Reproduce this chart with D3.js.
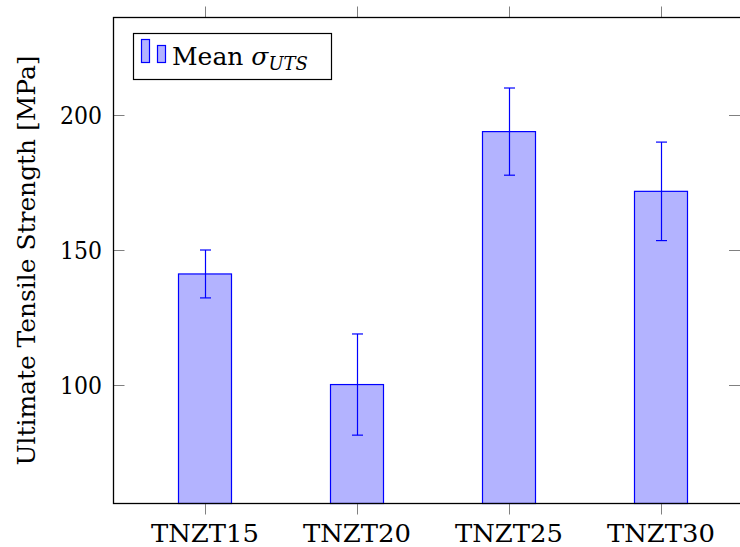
<!DOCTYPE html>
<html>
<head>
<meta charset="utf-8">
<script src="https://cdn.jsdelivr.net/npm/d3@7"></script>
<style>
  body { margin: 0; background: #fff; }
</style>
</head>
<body>
<div id="chart"></div>
<script>
// data
const categories = ['TNZT15', 'TNZT20', 'TNZT25', 'TNZT30']
const means = [141.1, 100, 194, 171.8]
const errors = [8.9, 18.8, 16.2, 18.3]
const yTicks = [100, 150, 200]

const width = 740
const height = 547
const plot = { left: 113.5, right: 741, top: 17.5, bottom: 503.5 }
const serif = '"DejaVu Serif", "Liberation Serif", serif'

const svg = d3.select('#chart')
  .append('svg')
  .attr('width', width)
  .attr('height', height)
  .style('font-family', serif)

const x = d3.scalePoint()
  .domain(categories)
  .range([205, 661])

const y = d3.scaleLinear()
  .domain([55.8, 236.4])
  .range([plot.bottom, plot.top])

const barWidth = 53
const capWidth = 11

// bars
svg.selectAll('rect.bar')
  .data(categories)
  .enter()
  .append('rect')
  .attr('class', 'bar')
  .attr('x', d => x(d) - barWidth / 2)
  .attr('width', barWidth)
  .attr('y', (d, i) => y(means[i]))
  .attr('height', (d, i) => plot.bottom - y(means[i]))
  .attr('fill', '#b3b3ff')
  .attr('stroke', '#0000ff')
  .attr('stroke-width', 1.2)

// error bars
const err = svg.append('g')
  .attr('stroke', '#0000ff')
  .attr('stroke-width', 1.2)

categories.forEach((c, i) => {
  const cx = Math.round(x(c)) + 0.5
  const hi = y(means[i] + errors[i])
  const lo = y(means[i] - errors[i])
  err.append('line').attr('x1', cx).attr('x2', cx).attr('y1', hi).attr('y2', lo)
  err.append('line').attr('x1', cx - capWidth / 2).attr('x2', cx + capWidth / 2).attr('y1', hi).attr('y2', hi)
  err.append('line').attr('x1', cx - capWidth / 2).attr('x2', cx + capWidth / 2).attr('y1', lo).attr('y2', lo)
})

// ticks (gray): x ticks outward top and bottom, y ticks inward left and right
const ticks = svg.append('g')
  .attr('stroke', '#808080')
  .attr('stroke-width', 1)

categories.forEach(c => {
  const cx = Math.round(x(c)) + 0.5
  ticks.append('line').attr('x1', cx).attr('x2', cx).attr('y1', plot.bottom).attr('y2', plot.bottom + 11)
  ticks.append('line').attr('x1', cx).attr('x2', cx).attr('y1', plot.top).attr('y2', plot.top - 11)
})

yTicks.forEach(v => {
  const ty = Math.round(y(v)) + 0.5
  ticks.append('line').attr('x1', plot.left).attr('x2', plot.left + 11).attr('y1', ty).attr('y2', ty)
  ticks.append('line').attr('x1', plot.right - 1).attr('x2', plot.right - 12).attr('y1', ty).attr('y2', ty)
})

// axis frame
svg.append('rect')
  .attr('x', plot.left)
  .attr('y', plot.top)
  .attr('width', plot.right - plot.left)
  .attr('height', plot.bottom - plot.top)
  .attr('fill', 'none')
  .attr('stroke', '#000')
  .attr('stroke-width', 1.3)

// tick labels
svg.selectAll('text.xlabel')
  .data(categories)
  .enter()
  .append('text')
  .attr('class', 'xlabel')
  .attr('x', d => x(d))
  .attr('y', 542)
  .attr('text-anchor', 'middle')
  .attr('font-size', 25)
  .attr('textLength', 108)
  .attr('lengthAdjust', 'spacingAndGlyphs')
  .text(d => d)

svg.selectAll('text.ylabel')
  .data(yTicks)
  .enter()
  .append('text')
  .attr('class', 'ylabel')
  .attr('x', 102)
  .attr('y', d => y(d) + 9)
  .attr('text-anchor', 'end')
  .attr('font-size', 25)
  .attr('textLength', 42)
  .attr('lengthAdjust', 'spacingAndGlyphs')
  .text(d => d)

// axis title
svg.append('text')
  .attr('transform', `translate(35, ${(plot.top + plot.bottom) / 2}) rotate(-90)`)
  .attr('text-anchor', 'middle')
  .attr('font-size', 24)
  .attr('textLength', 410)
  .attr('lengthAdjust', 'spacingAndGlyphs')
  .text('Ultimate Tensile Strength [MPa]')

// legend
const legend = svg.append('g')
legend.append('rect')
  .attr('x', 133.5)
  .attr('y', 33.5)
  .attr('width', 198)
  .attr('height', 46)
  .attr('fill', '#fff')
  .attr('stroke', '#000')
  .attr('stroke-width', 1.2)
legend.append('rect')
  .attr('x', 141.5).attr('y', 39.5).attr('width', 8).attr('height', 23)
  .attr('fill', '#b3b3ff').attr('stroke', '#0000ff').attr('stroke-width', 1.2)
legend.append('rect')
  .attr('x', 157.5).attr('y', 45.5).attr('width', 8).attr('height', 17)
  .attr('fill', '#b3b3ff').attr('stroke', '#0000ff').attr('stroke-width', 1.2)
const lt = legend.append('text')
  .attr('x', 172)
  .attr('y', 65)
  .attr('font-size', 25)
lt.append('tspan').text('Mean ')
lt.append('tspan').attr('font-style', 'italic').text('σ')
lt.append('tspan')
  .attr('font-style', 'italic')
  .attr('font-size', 18)
  .attr('dy', 5)
  .text('UTS')
</script>
</body>
</html>
